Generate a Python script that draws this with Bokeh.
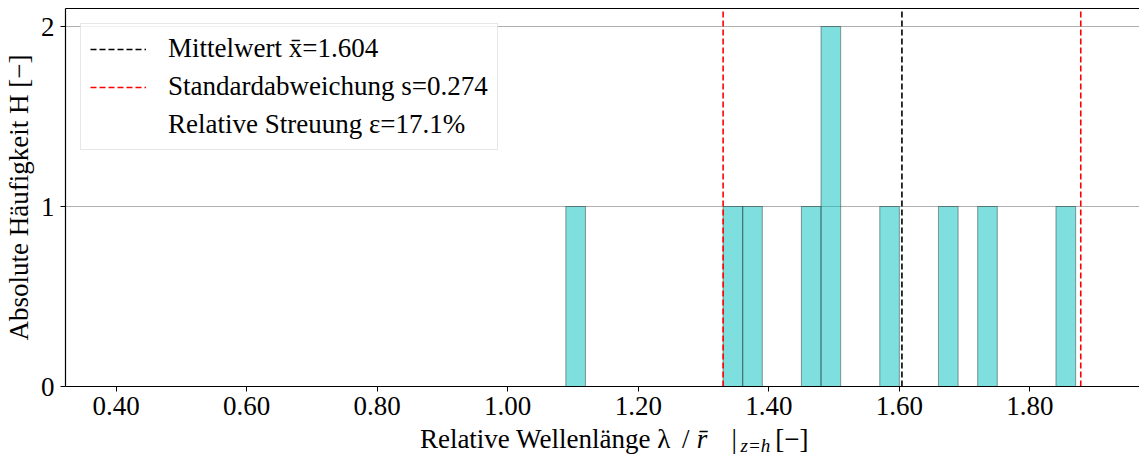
from bokeh.plotting import figure
from bokeh.models import (Range1d, FixedTicker, NumeralTickFormatter, Legend, LegendItem,
                          LinearAxis, ColumnDataSource)
from bokeh.layouts import column
from bokeh.core.properties import value
from bokeh.embed import file_html
from bokeh.resources import INLINE

# ---- data ----
bin_lefts = [1.089, 1.330, 1.360, 1.450, 1.480, 1.570, 1.660, 1.720, 1.840]
counts = [1, 1, 1, 1, 2, 1, 1, 1, 1]
bin_width = 0.0301
mean_val = 1.604
std_val = 0.274
rel_spread = 17.1
x_ticks = [0.40, 0.60, 0.80, 1.00, 1.20, 1.40, 1.60, 1.80]
y_ticks = [0, 1, 2]

FONT = "Liberation Serif"
FS = "27px"
W = 1139

x_start, x_end = 0.3224, 1.968
y_start, y_end = 0.0, 2.1

p = figure(width=W, height=421, output_backend="svg", toolbar_location=None,
           x_range=Range1d(x_start, x_end), y_range=Range1d(y_start, y_end),
           min_border_left=57, min_border_right=0, min_border_top=8, min_border_bottom=35)
p.outline_line_color = None
p.background_fill_color = "white"

centers = [l + bin_width / 2 for l in bin_lefts]
src = ColumnDataSource(dict(x=centers, top=counts))
p.vbar(x="x", top="top", bottom=0, width=bin_width, source=src,
       fill_color="#00BFBF", fill_alpha=0.5, line_color="black", line_alpha=0.35, line_width=1.1)

# vertical reference lines
r_mean = p.segment(x0=[mean_val], x1=[mean_val], y0=[y_start], y1=[y_end],
                   line_color="black", line_dash="6 3", line_width=1.6)
r_std = p.segment(x0=[mean_val - std_val, mean_val + std_val],
                  x1=[mean_val - std_val, mean_val + std_val],
                  y0=[y_start, y_start], y1=[y_end, y_end],
                  line_color="red", line_dash="6 3", line_width=1.6)
r_dummy = p.line(x=[], y=[], line_alpha=0)

# axes
xa = p.xaxis[0]
xa.ticker = FixedTicker(ticks=x_ticks)
xa.formatter = NumeralTickFormatter(format="0.00")
ya = p.yaxis[0]
ya.ticker = FixedTicker(ticks=y_ticks)
ya.axis_label = "Absolute Häufigkeit H [−]"
ya.axis_label_text_font = FONT
ya.axis_label_text_font_size = FS
ya.axis_label_text_font_style = "normal"
ya.axis_label_text_color = "black"
ya.axis_label_standoff = 4
for ax in (xa, ya):
    ax.major_label_text_font = FONT
    ax.major_label_text_font_size = FS
    ax.major_label_text_color = "black"
    ax.axis_line_color = "black"
    ax.axis_line_width = 1.2
    ax.major_tick_line_color = "black"
    ax.major_tick_out = 5
    ax.major_tick_in = 0
    ax.minor_tick_line_color = None
    ax.major_label_standoff = 5
ya.major_label_standoff = 6

top_axis = LinearAxis(ticker=FixedTicker(ticks=[]), major_label_text_font_size="0px",
                      major_tick_out=0, major_tick_in=0, minor_tick_out=0, minor_tick_in=0,
                      axis_line_color="black", axis_line_width=1.2)
p.add_layout(top_axis, "above")

p.xgrid.grid_line_color = None
p.ygrid.grid_line_color = "#b0b0b0"
p.ygrid.grid_line_width = 1

legend = Legend(items=[
    LegendItem(label="Mittelwert x̄=%.3f" % mean_val, renderers=[r_mean]),
    LegendItem(label="Standardabweichung s=%.3f" % std_val, renderers=[r_std]),
    LegendItem(label="Relative Streuung ε=%.1f%%" % rel_spread, renderers=[r_dummy]),
], location="top_left")
legend.margin = 15
legend.padding = 9
legend.spacing = 7
legend.glyph_width = 56
legend.glyph_height = 24
legend.label_height = 24
legend.label_standoff = 22
legend.label_text_font = FONT
legend.label_text_font_size = FS
legend.label_text_color = "black"
legend.border_line_color = "#d0d0d0"
legend.border_line_width = 1
legend.background_fill_alpha = 0.8
p.add_layout(legend)

# ---- x-axis label row (separate strip, frame aligned with the plot, shares its x range) ----
H2 = 34
p2 = figure(width=W, height=H2, output_backend="svg", toolbar_location=None,
            x_range=p.x_range, y_range=Range1d(0, H2),
            x_axis_type=None, y_axis_type=None,
            min_border_left=57, min_border_right=0, min_border_top=0, min_border_bottom=0)
p2.outline_line_color = None
p2.xgrid.grid_line_color = None
p2.ygrid.grid_line_color = None
base = 17
pieces = [
    (0.8654, base, "Relative Wellenlänge λ", "27px", "normal"),
    (1.2670, base, "/", "27px", "normal"),
    (1.2898, base, "r̄", "27px", "italic"),
    (1.3430, base, "|", "27px", "normal"),
    (1.3567, base - 7, "z=h", "19px", "italic"),
    (1.4099, base, "[−]", "27px", "normal"),
]
for px, py, t, fs, st in pieces:
    p2.text(x=[px], y=[py], text=[t], text_align="left", text_baseline="middle",
            text_font=value(FONT), text_font_size=fs, text_font_style=st, text_color="black")

layout = column(p, p2, spacing=0)
open("out.html", "w").write(file_html(layout, INLINE))
